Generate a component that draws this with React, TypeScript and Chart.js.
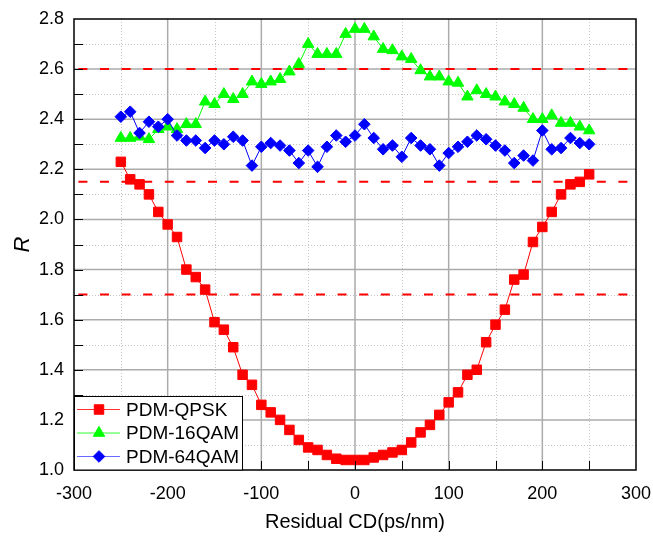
import React, { useEffect, useRef } from 'react';
import { Chart, registerables } from 'chart.js';

Chart.register(...registerables);

const FONT = '"Liberation Sans", Arial, Helvetica, sans-serif';

// Residual CD (ps/nm)
const cdValues = [
  -250, -240, -230, -220, -210, -200, -190, -180, -170, -160,
  -150, -140, -130, -120, -110, -100, -90, -80, -70, -60,
  -50, -40, -30, -20, -10, 0, 10, 20, 30, 40,
  50, 60, 70, 80, 90, 100, 110, 120, 130, 140,
  150, 160, 170, 180, 190, 200, 210, 220, 230, 240, 250,
];

const qpskR = [
  2.23, 2.16, 2.14, 2.10, 2.03, 1.98, 1.93, 1.80, 1.77, 1.72,
  1.59, 1.56, 1.49, 1.38, 1.34, 1.26, 1.23, 1.20, 1.16, 1.12,
  1.09, 1.08, 1.06, 1.045, 1.04, 1.04, 1.04, 1.05, 1.06, 1.07,
  1.08, 1.11, 1.15, 1.18, 1.22, 1.27, 1.31, 1.38, 1.40, 1.51,
  1.58, 1.64, 1.76, 1.78, 1.91, 1.97, 2.03, 2.10, 2.14, 2.15, 2.18,
];

const qam16R = [
  2.325, 2.325, 2.33, 2.32, 2.36, 2.37, 2.36, 2.38, 2.38, 2.47,
  2.46, 2.50, 2.48, 2.50, 2.55, 2.54, 2.55, 2.56, 2.59, 2.62,
  2.70, 2.66, 2.66, 2.66, 2.74, 2.76, 2.76, 2.73, 2.68, 2.675,
  2.65, 2.64, 2.595, 2.57, 2.57, 2.55, 2.545, 2.49, 2.515, 2.50,
  2.49, 2.47, 2.46, 2.445, 2.40, 2.40, 2.415, 2.385, 2.385, 2.37, 2.355,
];

const qam64R = [
  2.41, 2.43, 2.345, 2.39, 2.37, 2.40, 2.335, 2.315, 2.315, 2.285,
  2.315, 2.30, 2.33, 2.315, 2.215, 2.29, 2.305, 2.295, 2.275, 2.225,
  2.275, 2.21, 2.29, 2.335, 2.31, 2.335, 2.38, 2.325, 2.28, 2.295,
  2.25, 2.325, 2.295, 2.28, 2.215, 2.265, 2.29, 2.31, 2.335, 2.32,
  2.295, 2.275, 2.225, 2.255, 2.235, 2.355, 2.28, 2.285, 2.325, 2.305, 2.30,
];

const seriesNames = ['PDM-QPSK', 'PDM-16QAM', 'PDM-64QAM'];
const seriesColors = ['#ff0000', '#00ff00', '#0000ff'];
const legendLineColors = ['#ff3030', '#30ff30', '#6a6aff'];
const seriesStyles = ['rect', 'triangle', 'rectRot'];
const seriesRadii = [6.7, 6.6, 5.8];

const thresholdLevels = [2.6, 2.15, 1.7];

const xMin = -300, xMax = 300, xMajor = 100, xMinor = 50;
const yMin = 1.0, yMax = 2.8, yMajor = 0.2, yMinor = 0.1;

function drawMarker(ctx: CanvasRenderingContext2D, style: string, x: number, y: number, r: number, color: string) {
  ctx.save();
  ctx.setLineDash([]);
  ctx.fillStyle = color;
  ctx.strokeStyle = color;
  ctx.lineWidth = 1;
  ctx.beginPath();
  if (style === 'rect') {
    const s = r * Math.SQRT1_2;
    ctx.rect(x - s, y - s, 2 * s, 2 * s);
  } else if (style === 'triangle') {
    const h = r * Math.sin(Math.PI / 3);
    ctx.moveTo(x, y - r);
    ctx.lineTo(x - h, y + r / 2);
    ctx.lineTo(x + h, y + r / 2);
    ctx.closePath();
  } else {
    ctx.moveTo(x, y - r);
    ctx.lineTo(x + r, y);
    ctx.lineTo(x, y + r);
    ctx.lineTo(x - r, y);
    ctx.closePath();
  }
  ctx.fill();
  ctx.stroke();
  ctx.restore();
}

const decorPlugin = {
  id: 'decor',
  beforeDatasetsDraw(chart: any) {
    const { ctx, chartArea: a, scales } = chart;
    const xs = scales.x, ys = scales.y;
    ctx.save();
    ctx.beginPath();
    ctx.rect(a.left, a.top, a.right - a.left, a.bottom - a.top);
    ctx.clip();

    // minor dotted grid
    ctx.lineWidth = 1;
    ctx.strokeStyle = '#c4c4c4';
    ctx.setLineDash([1, 2]);
    const nx = Math.round((xMax - xMin) / xMinor);
    for (let i = 1; i < nx; i += 2) {
      const px = Math.round(xs.getPixelForValue(xMin + i * xMinor)) + 0.5;
      ctx.beginPath(); ctx.moveTo(px, a.top); ctx.lineTo(px, a.bottom); ctx.stroke();
    }
    const ny = Math.round((yMax - yMin) / yMinor);
    for (let i = 1; i < ny; i += 2) {
      const py = Math.round(ys.getPixelForValue(yMin + i * yMinor)) + 0.5;
      ctx.beginPath(); ctx.moveTo(a.left, py); ctx.lineTo(a.right, py); ctx.stroke();
    }

    // major solid grid
    ctx.setLineDash([]);
    ctx.strokeStyle = '#ababab';
    ctx.lineWidth = 1.5;
    for (let i = 2; i < nx; i += 2) {
      const px = xs.getPixelForValue(xMin + i * xMinor);
      ctx.beginPath(); ctx.moveTo(px, a.top); ctx.lineTo(px, a.bottom); ctx.stroke();
    }
    for (let i = 2; i < ny; i += 2) {
      const py = ys.getPixelForValue(yMin + i * yMinor);
      ctx.beginPath(); ctx.moveTo(a.left, py); ctx.lineTo(a.right, py); ctx.stroke();
    }

    // red dashed threshold lines
    ctx.strokeStyle = '#ff0000';
    ctx.lineWidth = 2;
    ctx.setLineDash([9, 12.6]);
    ctx.lineDashOffset = -4.4;
    thresholdLevels.forEach((lv) => {
      const py = ys.getPixelForValue(lv);
      ctx.beginPath(); ctx.moveTo(a.left, py); ctx.lineTo(a.right, py); ctx.stroke();
    });
    ctx.restore();
  },
  afterDatasetsDraw(chart: any) {
    const { ctx, chartArea: a, scales } = chart;
    const xs = scales.x, ys = scales.y;
    ctx.save();
    ctx.setLineDash([]);

    // inward ticks
    ctx.strokeStyle = '#000';
    ctx.lineWidth = 1;
    const tl = 9;
    const nx = Math.round((xMax - xMin) / xMinor);
    for (let i = 1; i < nx; i++) {
      const px = Math.round(xs.getPixelForValue(xMin + i * xMinor)) + 0.5;
      ctx.beginPath(); ctx.moveTo(px, a.bottom); ctx.lineTo(px, a.bottom - tl); ctx.stroke();
    }
    const ny = Math.round((yMax - yMin) / yMinor);
    for (let i = 1; i < ny; i++) {
      const py = Math.round(ys.getPixelForValue(yMin + i * yMinor)) + 0.5;
      ctx.beginPath(); ctx.moveTo(a.left, py); ctx.lineTo(a.left + tl, py); ctx.stroke();
    }

    // frame
    ctx.lineWidth = 1.5;
    ctx.strokeStyle = '#000';
    ctx.strokeRect(a.left, a.top, a.right - a.left, a.bottom - a.top);

    // legend
    const lx = a.left, lw = 168;
    const ly = a.bottom - 74, lh = 74;
    ctx.fillStyle = '#fff';
    ctx.fillRect(lx, ly, lw, lh);
    ctx.lineWidth = 1;
    ctx.strokeRect(lx + 0.5, ly + 0.5, lw, lh - 0.5);
    const rowOffsets = [13.5, 37, 60.5];
    ctx.font = `19px ${FONT}`;
    ctx.textBaseline = 'middle';
    ctx.textAlign = 'left';
    seriesNames.forEach((name, i) => {
      const ry = ly + rowOffsets[i];
      ctx.strokeStyle = legendLineColors[i];
      ctx.lineWidth = 1.2;
      ctx.beginPath(); ctx.moveTo(lx + 3, ry); ctx.lineTo(lx + 46, ry); ctx.stroke();
      drawMarker(ctx, seriesStyles[i], lx + 25, ry, seriesRadii[i], seriesColors[i]);
      ctx.fillStyle = '#000';
      ctx.fillText(name, lx + 52, ry + 1);
    });
    ctx.restore();
  },
};

export default function App() {
  const canvasRef = useRef<HTMLCanvasElement | null>(null);

  useEffect(() => {
    document.body.style.margin = '0';
    const canvas = canvasRef.current;
    if (!canvas) return;
    Chart.defaults.font.family = FONT;
    const seriesData = [qpskR, qam16R, qam64R];
    const datasets = seriesData.map((vals, i) => ({
      label: seriesNames[i],
      data: cdValues.map((x, k) => ({ x, y: vals[k] })),
      borderColor: seriesColors[i],
      backgroundColor: seriesColors[i],
      borderWidth: 1,
      pointStyle: seriesStyles[i] as any,
      pointRadius: seriesRadii[i],
      pointBorderWidth: 1,
      pointHoverRadius: seriesRadii[i],
      tension: 0,
      order: 2 - i,
    }));

    const chart = new Chart(canvas, {
      type: 'line',
      data: { datasets },
      options: {
        animation: false,
        responsive: false,
        maintainAspectRatio: false,
        events: [],
        layout: { padding: { top: 19, right: 17, left: 0, bottom: 0 } },
        plugins: {
          legend: { display: false },
          tooltip: { enabled: false },
        },
        scales: {
          x: {
            type: 'linear',
            min: xMin,
            max: xMax,
            grid: { display: false, drawTicks: false },
            border: { display: false },
            ticks: {
              stepSize: xMajor,
              color: '#000',
              font: { size: 18, family: FONT },
              padding: 13,
              maxRotation: 0,
              callback: (v: any) => String(v),
            },
            title: {
              display: true,
              text: 'Residual CD(ps/nm)',
              color: '#000',
              font: { size: 20, family: FONT },
              padding: { top: 0, bottom: 2 },
            },
            afterFit: (s: any) => { s.height = 66; s.paddingLeft = 0; s.paddingRight = 0; },
          },
          y: {
            type: 'linear',
            min: yMin,
            max: yMax,
            grid: { display: false, drawTicks: false },
            border: { display: false },
            ticks: {
              stepSize: yMajor,
              color: '#000',
              font: { size: 18, family: FONT },
              padding: 10,
              callback: (v: any) => Number(v).toFixed(1),
            },
            title: {
              display: true,
              text: 'R',
              color: '#000',
              font: { size: 22, family: FONT, style: 'italic' },
              padding: { top: 10, bottom: 0 },
            },
            afterFit: (s: any) => { s.width = 74; s.paddingTop = 0; s.paddingBottom = 0; },
          },
        },
      },
      plugins: [decorPlugin],
    });
    return () => chart.destroy();
  }, []);

  return (
    <div style={{ position: 'absolute', left: 0, top: 0, width: 653, height: 536, background: '#fff' }}>
      <canvas ref={canvasRef} width={653} height={536} style={{ display: 'block', width: 653, height: 536 }} />
    </div>
  );
}
